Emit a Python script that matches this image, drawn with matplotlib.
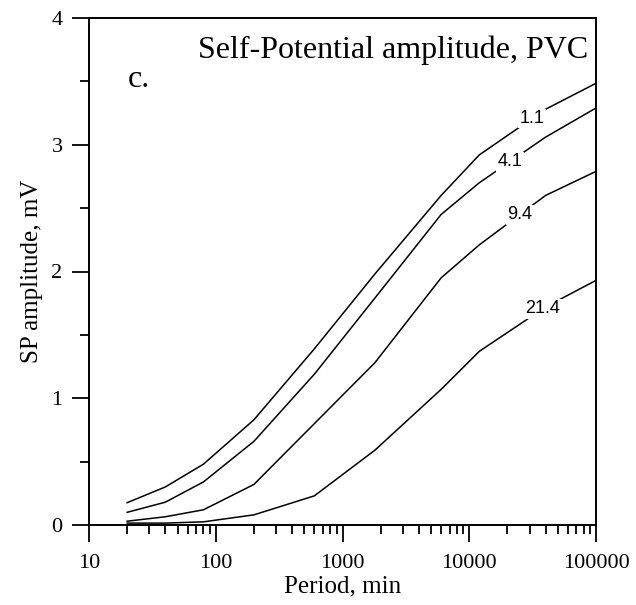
import numpy as np
import matplotlib
matplotlib.use("Agg")
import matplotlib.pyplot as plt
from matplotlib.ticker import LogLocator, MultipleLocator, FixedFormatter, FixedLocator

period = [20, 40, 80, 200, 600, 1800, 6000, 12000, 40000, 100000]
sp_1_1 = [0.176, 0.30, 0.48, 0.83, 1.39, 1.98, 2.60, 2.92, 3.28, 3.485]
sp_4_1 = [0.10, 0.18, 0.34, 0.66, 1.19, 1.79, 2.45, 2.70, 3.06, 3.29]
sp_9_4 = [0.03, 0.065, 0.12, 0.32, 0.80, 1.28, 1.95, 2.21, 2.60, 2.79]
sp_21_4 = [0.015, 0.015, 0.025, 0.08, 0.23, 0.59, 1.07, 1.37, 1.72, 1.93]

curves = [sp_1_1, sp_4_1, sp_9_4, sp_21_4]
curve_labels = ["1.1", "4.1", "9.4", "21.4"]
label_periods = [31300, 20900, 25100, 38200]

xticks = [10, 100, 1000, 10000, 100000]
xtick_labels = ["10", "100", "1000", "10000", "100000"]

serif = "Liberation Serif"
sans = "Liberation Sans"

fig = plt.figure(figsize=(6.36, 6.05), dpi=100)
ax = fig.add_axes([89 / 636, 80 / 605, 507 / 636, 507 / 605])

for vals in curves:
    ax.plot(period, vals, color="black", lw=1.1)

# inline labels, white box cuts the line like a contour label
for vals, lab, p in zip(curves, curve_labels, label_periods):
    yv = np.interp(np.log10(p), np.log10(period), vals)
    ax.text(p, yv, lab, family=sans, fontsize=13, ha="center", va="center",
            bbox=dict(facecolor="white", edgecolor="none", pad=1.0))

ax.set_xscale("log")
ax.set_xlim(10, 100000)
ax.set_ylim(0, 4)

ax.xaxis.set_major_locator(FixedLocator(xticks))
ax.xaxis.set_major_formatter(FixedFormatter(xtick_labels))
ax.xaxis.set_minor_locator(LogLocator(base=10, subs=np.arange(2, 10)))
ax.xaxis.set_minor_formatter(FixedFormatter([]))
ax.yaxis.set_major_locator(MultipleLocator(1))
ax.yaxis.set_minor_locator(MultipleLocator(0.5))

ax.tick_params(which="major", direction="out", length=12, width=1.3, labelsize=16, pad=7)
ax.tick_params(which="minor", direction="out", length=6.5, width=1.3)
ax.tick_params(axis="x", which="major", pad=9)
for lbl in ax.get_xticklabels() + ax.get_yticklabels():
    lbl.set_family(serif)
for sp in ax.spines.values():
    sp.set_linewidth(1.4)

ax.set_xlabel("Period, min", family=serif, fontsize=18, labelpad=2)
ax.set_ylabel("SP amplitude, mV", family=serif, fontsize=18, labelpad=6)

ax.text(0.984, 0.921, "Self-Potential amplitude, PVC", transform=ax.transAxes,
        family=serif, fontsize=23, ha="right", va="baseline")
ax.text(0.077, 0.864, "c.", transform=ax.transAxes,
        family=serif, fontsize=23, ha="left", va="baseline")

fig.savefig("out.png", dpi=100)
